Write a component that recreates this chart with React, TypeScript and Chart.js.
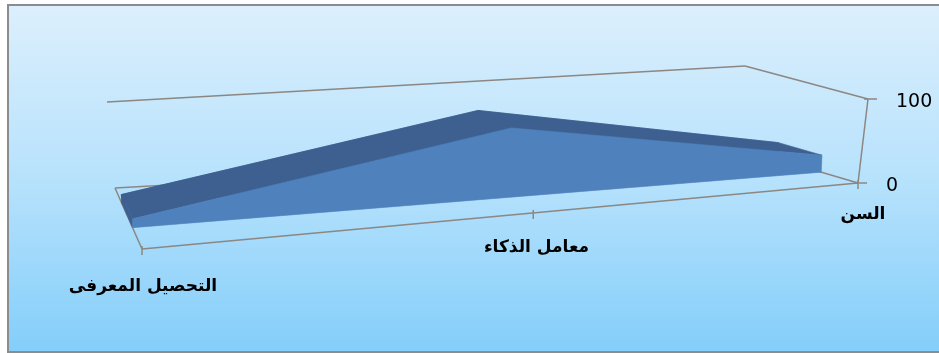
import React, { useEffect, useRef } from "react";
import { Chart, registerables } from "chart.js";

Chart.register(...registerables);

// ---- data ----
const categories = ["السن", "معامل الذكاء", "التحصيل المعرفى"];
const values = [20, 80, 10];
const valueTicks = [0, 100];

// ---- projected 3D plot box (front / back, bottom / top, left / right) ----
const BOX = {
  f00: [142, 249],
  f10: [858, 183],
  f01: [150, 158],
  f11: [868, 99],
  b00: [115, 188],
  b10: [753, 152],
  b01: [107, 102],
  b11: [745, 66],
};
const PERSPECTIVE = 0.83;
const SERIES_FRONT = 0.35;
const SERIES_BACK = 0.75;

const FRONT_COLOR = "#4F81BD";
const TOP_COLOR = "#3D6090";
const FRAME_COLOR = "#8C8782";

function lerp(a: number[], b: number[], t: number) {
  return [a[0] + (b[0] - a[0]) * t, a[1] + (b[1] - a[1]) * t];
}
function project(u: number, v: number, w: number) {
  const uw = u / (u + (1 - u) * PERSPECTIVE);
  const f0 = lerp(BOX.f00, BOX.f10, uw);
  const f1 = lerp(BOX.f01, BOX.f11, uw);
  const b0 = lerp(BOX.b00, BOX.b10, uw);
  const b1 = lerp(BOX.b01, BOX.b11, uw);
  return lerp(lerp(f0, f1, v), lerp(b0, b1, v), w);
}

function poly(ctx: CanvasRenderingContext2D, pts: number[][], color: string) {
  ctx.beginPath();
  pts.forEach((p, i) => (i ? ctx.lineTo(p[0], p[1]) : ctx.moveTo(p[0], p[1])));
  ctx.closePath();
  ctx.fillStyle = color;
  ctx.strokeStyle = color;
  ctx.lineWidth = 0.6;
  ctx.fill();
  ctx.stroke();
}
function line(ctx: CanvasRenderingContext2D, a: number[], b: number[]) {
  ctx.beginPath();
  ctx.moveTo(a[0], a[1]);
  ctx.lineTo(b[0], b[1]);
  ctx.stroke();
}

const area3d = {
  id: "area3d",
  beforeDraw(chart: any) {
    const { ctx } = chart;
    ctx.save();
    const g = ctx.createLinearGradient(0, 5, 0, 352);
    g.addColorStop(0, "#DCEFFD");
    g.addColorStop(0.5, "#B7E2FC");
    g.addColorStop(1, "#84CEFA");
    ctx.fillStyle = g;
    ctx.fillRect(8, 5, 945, 347);
    ctx.strokeStyle = "#8C8C8C";
    ctx.lineWidth = 2;
    ctx.strokeRect(8, 5, 945, 347);
    ctx.restore();
  },
  beforeDatasetsDraw(chart: any) {
    const { ctx, chartArea: ca, scales } = chart;
    const meta = chart.getDatasetMeta(0);
    const W = ca.right - ca.left;
    const H = ca.bottom - ca.top;
    const yScale = scales.y;
    const toV = (py: number) => (ca.bottom - py) / H;
    const base = toV(yScale.getPixelForValue(0));
    const pts = meta.data
      .map((el: any, i: number) => ({ u: (el.x - ca.left) / W, v: toV(el.y), i }))
      .sort((a: any, b: any) => a.u - b.u);

    ctx.save();
    // frame lines behind the series
    ctx.strokeStyle = FRAME_COLOR;
    ctx.lineWidth = 1.5;
    line(ctx, BOX.b00, BOX.b10);
    line(ctx, BOX.b10, BOX.f10);
    line(ctx, BOX.b01, BOX.b11);
    line(ctx, BOX.b11, BOX.f11);
    line(ctx, BOX.f11, BOX.f10);
    line(ctx, BOX.f10, BOX.f00);
    line(ctx, BOX.f00, BOX.b00);

    // back face
    const back = pts.map((p: any) => project(p.u, p.v, SERIES_BACK));
    back.push(project(pts[pts.length - 1].u, base, SERIES_BACK));
    back.push(project(pts[0].u, base, SERIES_BACK));
    poly(ctx, back, TOP_COLOR);
    // left side face
    const p0 = pts[0];
    poly(
      ctx,
      [
        project(p0.u, base, SERIES_FRONT),
        project(p0.u, p0.v, SERIES_FRONT),
        project(p0.u, p0.v, SERIES_BACK),
        project(p0.u, base, SERIES_BACK),
      ],
      TOP_COLOR
    );
    // top faces
    for (let k = 0; k < pts.length - 1; k++) {
      const a = pts[k];
      const b = pts[k + 1];
      poly(
        ctx,
        [
          project(a.u, a.v, SERIES_FRONT),
          project(b.u, b.v, SERIES_FRONT),
          project(b.u, b.v, SERIES_BACK),
          project(a.u, a.v, SERIES_BACK),
        ],
        TOP_COLOR
      );
    }
    // front face
    const front = pts.map((p: any) => project(p.u, p.v, SERIES_FRONT));
    front.push(project(pts[pts.length - 1].u, base, SERIES_FRONT));
    front.push(project(pts[0].u, base, SERIES_FRONT));
    poly(ctx, front, FRONT_COLOR);

    // category ticks and labels
    ctx.strokeStyle = FRAME_COLOR;
    ctx.lineWidth = 1.5;
    ctx.fillStyle = "#000";
    ctx.font = "bold 17px 'DejaVu Sans'";
    ctx.textAlign = "center";
    ctx.textBaseline = "middle";
    ctx.direction = "rtl";
    pts.forEach((p: any) => {
      const t = project(p.u, base, 0);
      line(ctx, [t[0], t[1] - 3], [t[0], t[1] + 6]);
      const uw = p.u / (p.u + (1 - p.u) * PERSPECTIVE);
      ctx.fillText(chart.data.labels[p.i], t[0] + 1 + 4 * uw, t[1] + 38 - 6 * uw);
    });

    // value ticks and labels
    ctx.direction = "ltr";
    ctx.textAlign = "left";
    ctx.font = "19px 'DejaVu Sans'";
    valueTicks.forEach((val) => {
      const v = toV(yScale.getPixelForValue(val));
      const t = project(1, v, 0);
      line(ctx, [t[0] - 4, t[1]], [t[0] + 9, t[1]]);
      ctx.fillText(String(val), t[0] + 28, t[1] + 3);
    });
    ctx.restore();
    return false;
  },
};

export default function App() {
  const ref = useRef<HTMLCanvasElement>(null);
  useEffect(() => {
    const chart = new Chart(ref.current as HTMLCanvasElement, {
      type: "line",
      data: {
        labels: categories,
        datasets: [
          {
            data: values,
            fill: "origin",
            backgroundColor: FRONT_COLOR,
            borderWidth: 0,
            pointRadius: 0,
          },
        ],
      },
      options: {
        animation: false,
        responsive: false,
        devicePixelRatio: 1,
        events: [],
        layout: { padding: 0 },
        plugins: { legend: { display: false }, tooltip: { enabled: false } },
        scales: {
          x: { type: "category", reverse: true, display: false, offset: false },
          y: { min: 0, max: 100, display: false, ticks: { stepSize: 100 } },
        },
      },
      plugins: [area3d],
    });
    return () => chart.destroy();
  }, []);
  return (
    <div style={{ position: "fixed", left: 0, top: 0, width: 939, height: 353 }}>
      <canvas ref={ref} width={939} height={353} style={{ display: "block", width: 939, height: 353 }} />
    </div>
  );
}
